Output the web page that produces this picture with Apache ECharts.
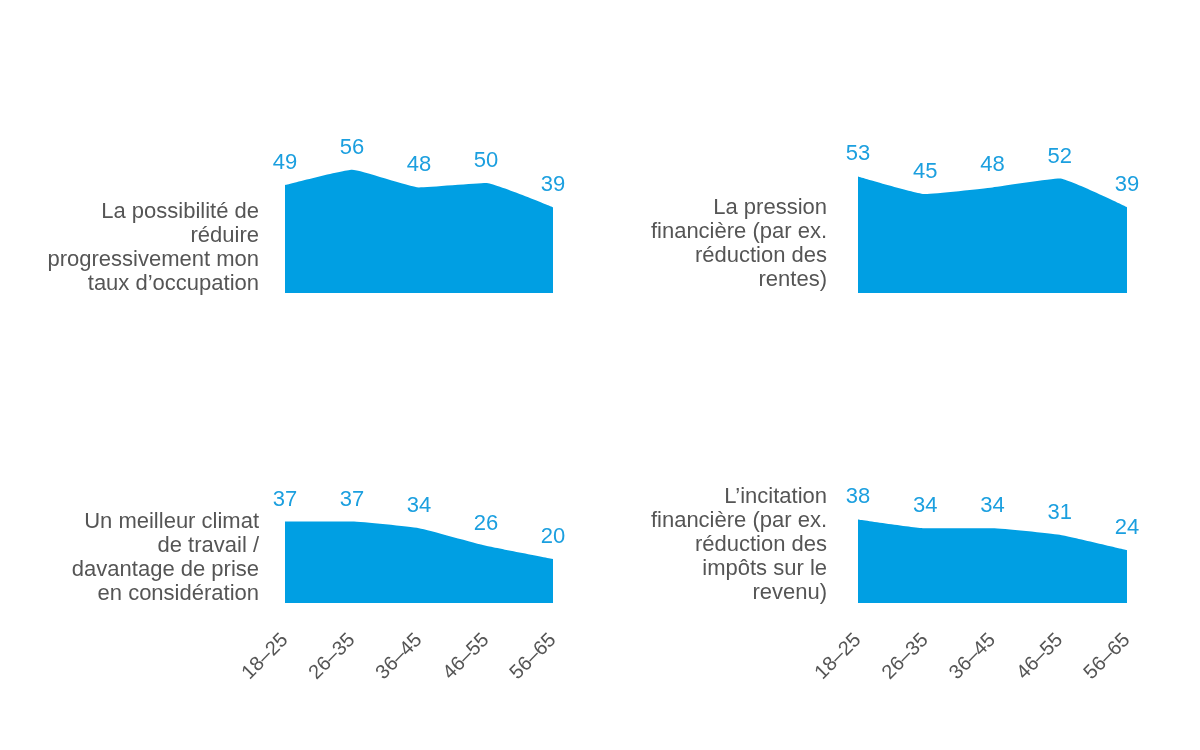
<!DOCTYPE html>
<html><head><meta charset="utf-8">
<script src="https://cdn.jsdelivr.net/npm/echarts@6/dist/echarts.min.js"></script>
<style>html,body{margin:0;padding:0;background:#fff}#c{width:1200px;height:750px}</style>
</head><body><div id="c"></div>
<script>
const ages = ['18–25','26–35','36–45','46–55','56–65'];
const vals1 = [49,56,48,50,39];
const vals2 = [53,45,48,52,39];
const vals3 = [37,37,34,26,20];
const vals4 = [38,34,34,31,24];
const titles = [
  'La possibilité de\nréduire\nprogressivement mon\ntaux d’occupation',
  'La pression\nfinancière (par ex.\nréduction des\nrentes)',
  'Un meilleur climat\nde travail /\ndavantage de prise\nen considération',
  'L’incitation\nfinancière (par ex.\nréduction des\nimpôts sur le\nrevenu)'
];
const series = [vals1, vals2, vals3, vals4];
const blue = '#009FE3';
const font = '"Liberation Sans", Arial, Helvetica, sans-serif';
const grids = [
  {left:285, top:73, width:268, height:220},
  {left:858, top:73, width:269, height:220},
  {left:285, top:383, width:268, height:220},
  {left:858, top:383, width:269, height:220}
];
const titleTops = [200, 196, 510, 485];
const titleRights = [259, 827, 259, 827];
const option = {
  animation:false,
  textStyle:{fontFamily:font},
  grid: grids,
  title: titles.map((t,i)=>({
    text:t, left:titleRights[i], top:titleTops[i], textAlign:'right', padding:0,
    textStyle:{fontFamily:font, fontSize:22, fontWeight:'normal', color:'#555555', lineHeight:24, align:'right'}
  })),
  xAxis: grids.map((g,i)=>({
    type:'category', gridIndex:i, data:ages, boundaryGap:false,
    axisLine:{show:false}, axisTick:{show:false}, splitLine:{show:false},
    axisLabel:{show:i>=2, rotate:45, margin:34, fontSize:20, color:'#555555', fontFamily:font}
  })),
  yAxis: grids.map((g,i)=>({
    type:'value', gridIndex:i, min:0, max:100, show:false
  })),
  series: series.map((d,i)=>({
    type:'line', xAxisIndex:i, yAxisIndex:i, data:d, smooth:0.12,
    symbol:'circle', symbolSize:0, showSymbol:true,
    lineStyle:{width:0, color:blue}, itemStyle:{color:blue},
    areaStyle:{color:blue, opacity:1},
    label:{show:true, position:'top', distance:11, fontSize:22, color:'#1B9FDF', fontFamily:font}
  }))
};
const chart = echarts.init(document.getElementById('c'));
chart.setOption(option);
</script></body></html>
